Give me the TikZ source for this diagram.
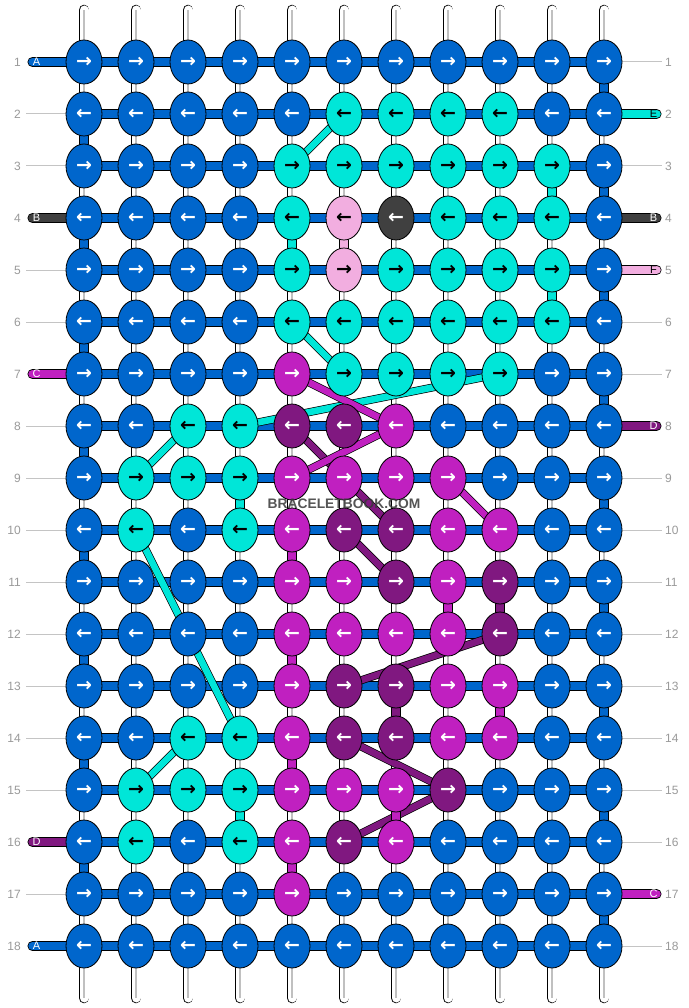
\documentclass[tikz,border=0pt]{standalone}
\usepackage{fontspec}
\setmainfont{Liberation Sans}
\newfontfamily\arrowfont{DejaVu Sans}
\usetikzlibrary{shapes.geometric}
\pgfdeclarelayer{bg}
\pgfsetlayers{bg,main}
\definecolor{flossA}{HTML}{0066CC}
\definecolor{flossB}{HTML}{404040}
\definecolor{flossC}{HTML}{C020C0}
\definecolor{flossD}{HTML}{801880}
\definecolor{flossE}{HTML}{00E6D8}
\definecolor{flossF}{HTML}{F2AEE0}
\definecolor{numgray}{HTML}{9A9A9A}
\definecolor{linegray}{HTML}{C4C4C4}
\definecolor{midgray}{HTML}{C0C0C0}

\begin{document}
\begin{tikzpicture}[
  x=1pt, y=-1pt,
  knot/.style={draw=black, ellipse, line width=0.8pt, minimum width=36pt, minimum height=44pt, inner sep=0pt, font=\arrowfont\bfseries\fontsize{19}{19}\selectfont},
  knotA/.style={knot, fill=flossA, text=white},
  knotB/.style={knot, fill=flossB, text=white},
  knotC/.style={knot, fill=flossC, text=white},
  knotD/.style={knot, fill=flossD, text=white},
  knotE/.style={knot, fill=flossE, text=black},
  knotF/.style={knot, fill=flossF, text=black},
  back_strand/.style={draw=black, line width=0.8pt, double=white, double distance=9pt, line cap=round},
  mid_line/.style={draw=midgray, line width=1.2pt},
  row_bar/.style={draw=black, line width=0.8pt, double=#1, double distance=8.5pt},
  end_bar/.style={draw=black, line width=0.8pt, double=#1, double distance=8.5pt, line cap=round},
  carry/.style={draw=black, line width=0.7pt, double=#1, double distance=6.6pt},
  row_num/.style={text=numgray, font=\fontsize{12}{12}\selectfont, inner sep=0pt},
  guide/.style={draw=linegray, line width=1pt},
  tag/.style={font=\fontsize{11}{11}\selectfont, inner sep=0pt},
  brand/.style={text=black!78, text opacity=0.85, font=\bfseries\fontsize{13.8}{14}\selectfont, inner sep=0pt}
  ]
	\useasboundingbox (0,0) rectangle (688,1008);

	\foreach \c in {1,...,11} {
		\coordinate (top\c) at ({32+52*\c}, 10);
		\coordinate (bot\c) at ({32+52*\c}, 998);
	}

	\foreach \r/\cols in {
		1/{A,A,A,A,A,A,A,A,A,A,A},
		2/{A,A,A,A,A,E,E,E,E,A,A},
		3/{A,A,A,A,E,E,E,E,E,E,A},
		4/{A,A,A,A,E,F,B,E,E,E,A},
		5/{A,A,A,A,E,F,E,E,E,E,A},
		6/{A,A,A,A,E,E,E,E,E,E,A},
		7/{A,A,A,A,C,E,E,E,E,A,A},
		8/{A,A,E,E,D,D,C,A,A,A,A},
		9/{A,E,E,E,C,C,C,C,A,A,A},
		10/{A,E,A,E,C,D,D,C,C,A,A},
		11/{A,A,A,A,C,C,D,C,D,A,A},
		12/{A,A,A,A,C,C,C,C,D,A,A},
		13/{A,A,A,A,C,D,D,C,C,A,A},
		14/{A,A,E,E,C,D,D,C,C,A,A},
		15/{A,E,E,E,C,C,C,D,A,A,A},
		16/{A,E,A,E,C,D,C,A,A,A,A},
		17/{A,A,A,A,C,A,A,A,A,A,A},
		18/{A,A,A,A,A,A,A,A,A,A,A}} {
		\foreach \k [count=\c] in \cols {
			\node[knot\k] (k\r-\c) at ({32+52*\c}, {10+52*\r}) {\ifodd\r →\else ←\fi};
		}
		\node[row_num, anchor=east] (nl\r) at (21, {10+52*\r}) {\r};
		\node[row_num, anchor=west] (nr\r) at (665, {10+52*\r}) {\r};
	}

	\foreach \r/\k/\t in {1/A/white, 4/B/white, 7/C/white, 16/D/white, 18/A/white} {
		\coordinate (el\r) at (32.5, {10+52*\r});
		\node[tag, text=\t] (tl\r) at (36.5, {10+52*\r}) {\k};
	}
	\foreach \r/\k/\t in {2/E/black, 4/B/white, 5/F/black, 8/D/white, 17/C/white} {
		\coordinate (er\r) at (656.5, {10+52*\r});
		\node[tag, text=\t] (tr\r) at (653.5, {10+52*\r}) {\k};
	}

	\node[brand, anchor=base] (site) at (344, 508) {BRACELETBOOK.COM};

	\begin{pgfonlayer}{bg}
		\fill[white] (0,0) rectangle (688,1008);

		\foreach \c in {1,...,11} {
			\draw[back_strand] (top\c) -- (bot\c);
			\draw[mid_line] (top\c) -- (bot\c);
		}

		\foreach \r in {1,...,18}
			\draw[row_bar=flossA] (k\r-1.center) -- (k\r-11.center);

		\foreach \r [evaluate=\r as \n using int(\r+1)] in {1,3,...,17}
			\draw[row_bar=flossA] (k\r-11.center) -- (k\n-11.center);
		\foreach \r [evaluate=\r as \n using int(\r+1)] in {2,4,...,16}
			\draw[row_bar=flossA] (k\r-1.center) -- (k\n-1.center);

		\foreach \r in {2,3,5,6,8,9,10,11,12,13,14,15,17}
			\draw[guide] ([xshift=5pt]nl\r.east) -- (k\r-1.center);
		\foreach \r in {1,3,6,7,9,10,11,12,13,14,15,16,18}
			\draw[guide] (k\r-11.center) -- ([xshift=-3pt]nr\r.west);

		\foreach \r/\k in {1/A, 4/B, 7/C, 16/D, 18/A}
			\draw[end_bar=floss\k] (el\r) -- (k\r-1.center);
		\foreach \r/\k in {2/E, 4/B, 5/F, 8/D, 17/C}
			\draw[end_bar=floss\k] (k\r-11.center) -- (er\r);

		\foreach \ra/\ca/\rb/\cb/\k in {2/6/3/5/E, 6/5/7/6/E, 7/9/8/4/E, 8/3/9/2/E, 10/2/14/4/E, 14/3/15/2/E,
			8/5/10/7/D, 10/6/11/7/D, 12/9/13/6/D, 14/6/15/8/D, 15/8/16/6/D,
			7/5/8/7/C, 8/7/9/5/C, 9/8/10/9/C}
			\draw[carry=floss\k] (k\ra-\ca.center) -- (k\rb-\cb.center);

		\foreach \r/\c/\k [evaluate=\r as \n using int(\r+1)] in {3/10/E, 5/10/E, 4/5/E, 4/6/F, 9/4/E, 15/4/E,
			10/5/C, 12/5/C, 14/5/C, 16/5/C, 11/8/C, 13/9/C, 15/7/C, 11/9/D, 13/7/D}
			\draw[row_bar=floss\k] (k\r-\c.center) -- (k\n-\c.center);
	\end{pgfonlayer}
\end{tikzpicture}
\end{document}
